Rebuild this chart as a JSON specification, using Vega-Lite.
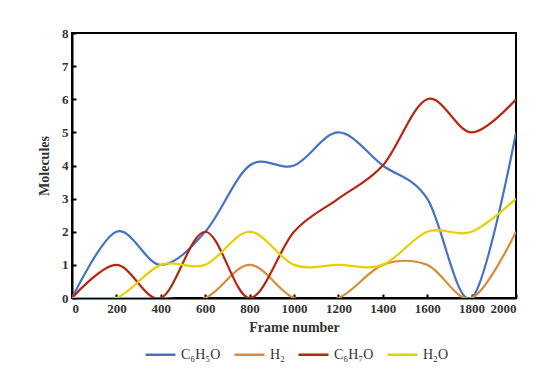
{
  "$schema": "https://vega.github.io/schema/vega-lite/v6.json",
  "autosize": "none",
  "width": 444,
  "height": 265,
  "padding": {"left": 72, "top": 33, "right": 34, "bottom": 88},
  "background": "white",
  "config": {
    "view": {"stroke": "black", "strokeWidth": 2},
    "font": "Liberation Serif"
  },
  "data": {
    "values": [
      {"frame": 0, "species": "C₆H₅O", "n": 0},
      {"frame": 200, "species": "C₆H₅O", "n": 2},
      {"frame": 400, "species": "C₆H₅O", "n": 1},
      {"frame": 600, "species": "C₆H₅O", "n": 2},
      {"frame": 800, "species": "C₆H₅O", "n": 4},
      {"frame": 1000, "species": "C₆H₅O", "n": 4},
      {"frame": 1200, "species": "C₆H₅O", "n": 5},
      {"frame": 1400, "species": "C₆H₅O", "n": 4},
      {"frame": 1600, "species": "C₆H₅O", "n": 3},
      {"frame": 1800, "species": "C₆H₅O", "n": 0},
      {"frame": 2000, "species": "C₆H₅O", "n": 5},
      {"frame": 0, "species": "H₂", "n": 0},
      {"frame": 200, "species": "H₂", "n": 0},
      {"frame": 400, "species": "H₂", "n": 0},
      {"frame": 600, "species": "H₂", "n": 0},
      {"frame": 800, "species": "H₂", "n": 1},
      {"frame": 1000, "species": "H₂", "n": 0},
      {"frame": 1200, "species": "H₂", "n": 0},
      {"frame": 1400, "species": "H₂", "n": 1},
      {"frame": 1600, "species": "H₂", "n": 1},
      {"frame": 1800, "species": "H₂", "n": 0},
      {"frame": 2000, "species": "H₂", "n": 2},
      {"frame": 0, "species": "C₆H₇O", "n": 0},
      {"frame": 200, "species": "C₆H₇O", "n": 1},
      {"frame": 400, "species": "C₆H₇O", "n": 0},
      {"frame": 600, "species": "C₆H₇O", "n": 2},
      {"frame": 800, "species": "C₆H₇O", "n": 0},
      {"frame": 1000, "species": "C₆H₇O", "n": 2},
      {"frame": 1200, "species": "C₆H₇O", "n": 3},
      {"frame": 1400, "species": "C₆H₇O", "n": 4},
      {"frame": 1600, "species": "C₆H₇O", "n": 6},
      {"frame": 1800, "species": "C₆H₇O", "n": 5},
      {"frame": 2000, "species": "C₆H₇O", "n": 6},
      {"frame": 0, "species": "H₂O", "n": 0},
      {"frame": 200, "species": "H₂O", "n": 0},
      {"frame": 400, "species": "H₂O", "n": 1},
      {"frame": 600, "species": "H₂O", "n": 1},
      {"frame": 800, "species": "H₂O", "n": 2},
      {"frame": 1000, "species": "H₂O", "n": 1},
      {"frame": 1200, "species": "H₂O", "n": 1},
      {"frame": 1400, "species": "H₂O", "n": 1},
      {"frame": 1600, "species": "H₂O", "n": 2},
      {"frame": 1800, "species": "H₂O", "n": 2},
      {"frame": 2000, "species": "H₂O", "n": 3}
    ]
  },
  "mark": {"type": "line", "interpolate": "cardinal", "strokeWidth": 2.2, "clip": true},
  "encoding": {
    "x": {
      "field": "frame", "type": "quantitative",
      "scale": {"domain": [0, 2000], "nice": false},
      "axis": {
        "values": [0, 200, 400, 600, 800, 1000, 1200, 1400, 1600, 1800, 2000],
        "format": "d",
        "title": "Frame number", "titleFont": "Liberation Serif", "titleFontSize": 14, "titleFontWeight": "bold", "titleColor": "#333", "titlePadding": 5,
        "labelFont": "Liberation Serif", "labelFontSize": 13, "labelFontWeight": "bold", "labelColor": "#333", "labelPadding": 8,
        "grid": false, "domainColor": "black", "domainWidth": 2, "tickColor": "black", "tickWidth": 2, "tickSize": -4
      }
    },
    "y": {
      "field": "n", "type": "quantitative",
      "scale": {"domain": [0, 8], "nice": false},
      "axis": {
        "values": [0, 1, 2, 3, 4, 5, 6, 7, 8],
        "title": "Molecules", "titleFont": "Liberation Serif", "titleFontSize": 14, "titleFontWeight": "bold", "titleColor": "#333", "titlePadding": 10,
        "labelFont": "Liberation Serif", "labelFontSize": 13, "labelFontWeight": "bold", "labelColor": "#333", "labelPadding": 8,
        "grid": false, "domainColor": "black", "domainWidth": 2, "tickColor": "black", "tickWidth": 2, "tickSize": -4
      }
    },
    "color": {
      "field": "species", "type": "nominal",
      "scale": {
        "domain": ["C₆H₅O", "H₂", "C₆H₇O", "H₂O"],
        "range": ["#4472C4", "#D98C3A", "#B8260E", "#E3D200"]
      },
      "legend": {
        "title": null, "orient": "none", "direction": "horizontal",
        "legendX": 72, "legendY": 305,
        "symbolType": "stroke", "symbolSize": 900, "symbolStrokeWidth": 2.5,
        "labelFont": "Liberation Serif", "labelFontSize": 14, "labelColor": "#333",
        "columnPadding": 8, "labelOffset": 4
      }
    }
  }
}
